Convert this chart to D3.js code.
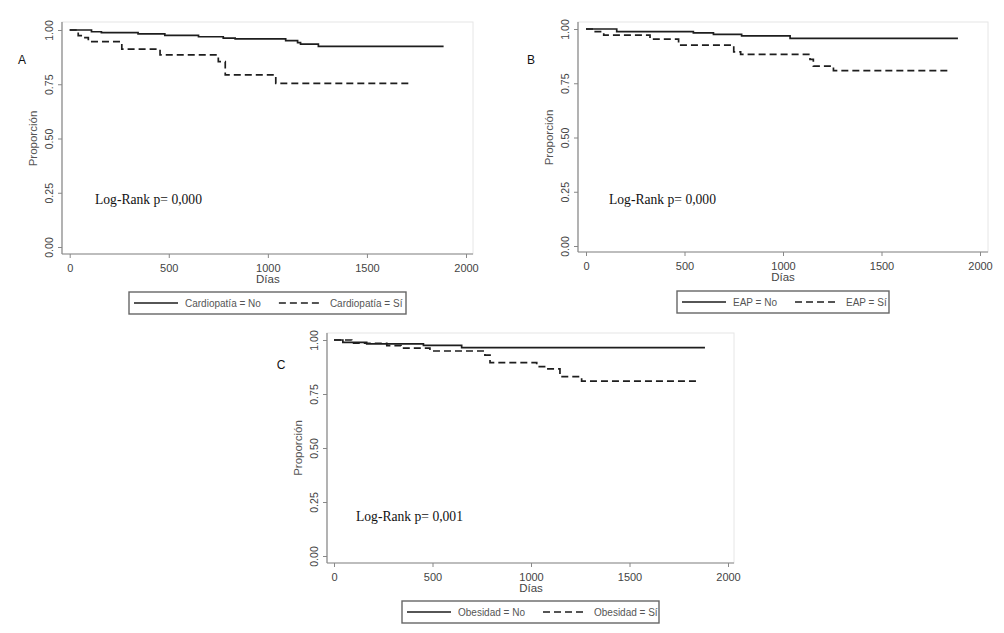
<!DOCTYPE html>
<html>
<head>
<meta charset="utf-8">
<script src="https://cdn.jsdelivr.net/npm/d3@7/dist/d3.min.js"></script>
<style>
  html, body { margin: 0; padding: 0; background: #fff; }
  svg { display: block; font-family: "Liberation Sans", Arial, sans-serif; }
</style>
</head>
<body>
<svg id="chart" width="1004" height="633"></svg>
<script>
// Kaplan-Meier curves, three panels (A, B, C)
// each series: [dias, proporcion] step points

var xTicks = [0, 500, 1000, 1500, 2000];
var yTicks = [0, 0.25, 0.5, 0.75, 1];

var cardioNo = [[0,1],[110,0.992],[160,0.988],[345,0.982],[480,0.975],[650,0.969],[775,0.963],[835,0.959],[1090,0.951],[1150,0.942],[1165,0.935],[1255,0.925],[1887,0.925]];
var cardioSi = [[0,1],[43,0.974],[77,0.965],[94,0.946],[263,0.912],[456,0.885],[750,0.854],[785,0.793],[1040,0.754],[1727,0.754]];

var eapNo = [[0,1],[156,0.988],[545,0.982],[647,0.975],[790,0.968],[1036,0.957],[1888,0.957]];
var eapSi = [[0,1],[40,0.988],[90,0.972],[325,0.953],[470,0.926],[750,0.895],[785,0.883],[1137,0.86],[1154,0.829],[1256,0.808],[1839,0.808]];

var obesNo = [[0,1],[45,0.989],[166,0.982],[454,0.975],[648,0.965],[1883,0.965]];
var obesSi = [[0,1],[90,0.985],[268,0.974],[340,0.962],[487,0.949],[766,0.93],[792,0.895],[1029,0.877],[1080,0.866],[1147,0.83],[1257,0.81],[1840,0.81]];

var panelLetters = ['A', 'B', 'C'];
var legendLabels = [
  ['Cardiopatía = No', 'Cardiopatía = Sí'],
  ['EAP = No', 'EAP = Sí'],
  ['Obesidad = No', 'Obesidad = Sí']
];
var pValues = ['Log-Rank p= 0,000', 'Log-Rank p= 0,000', 'Log-Rank p= 0,001'];

// layout of each panel (pixels)
var layouts = [
  { lx: 22,  ly: 64,  axX: 62,  axY: 254, top: 22,  right: 473, x0: 69.7, x1: 466, y1: 30,  y0: 247, leg: [129, 292, 277, 22], lr: [95, 204] },
  { lx: 531, ly: 64,  axX: 578, axY: 252, top: 22,  right: 988, x0: 586,  x1: 980, y1: 29,  y0: 246, leg: [677, 291, 212, 22], lr: [609, 204] },
  { lx: 281, ly: 369, axX: 327, axY: 563, top: 333, right: 734, x0: 334,  x1: 728, y1: 340, y0: 556, leg: [402, 601, 257, 22], lr: [356, 521] }
];

var series = [[cardioNo, cardioSi], [eapNo, eapSi], [obesNo, obesSi]];

var svg = d3.select('#chart');
var AXIS = '#888', TXT = '#444', INK = '#1e1e1e';

function drawPanel(i){
  var L = layouts[i];
  var g = svg.append('g');

  var x = d3.scaleLinear().domain([0, 2000]).range([L.x0, L.x1]);
  var y = d3.scaleLinear().domain([0, 1]).range([L.y0, L.y1]);

  // faint plot region outline
  g.append('rect')
    .attr('x', L.axX).attr('y', L.top)
    .attr('width', L.right - L.axX).attr('height', L.axY - L.top)
    .attr('fill', 'none').attr('stroke', '#e6e6e6');

  // y axis
  var ya = g.append('g').attr('transform', 'translate(' + L.axX + ',0)')
    .call(d3.axisLeft(y).tickValues(yTicks).tickFormat(d3.format('.2f')).tickSize(4));
  ya.select('.domain').remove();
  ya.selectAll('line').attr('stroke', AXIS);
  ya.selectAll('text')
    .attr('transform', 'rotate(-90)')
    .attr('x', 0).attr('y', -9.5).attr('dy', 0)
    .attr('text-anchor', 'middle')
    .attr('fill', TXT).style('font-size', '10.5px').style('font-family', null);
  g.append('line').attr('x1', L.axX).attr('x2', L.axX).attr('y1', L.top).attr('y2', L.axY).attr('stroke', AXIS).attr('stroke-width', 1.2);

  // x axis
  var xa = g.append('g').attr('transform', 'translate(0,' + L.axY + ')')
    .call(d3.axisBottom(x).tickValues(xTicks).tickFormat(d3.format('d')).tickSize(4));
  xa.select('.domain').remove();
  xa.selectAll('line').attr('stroke', AXIS);
  xa.selectAll('text')
    .attr('y', 18).attr('dy', 0)
    .attr('fill', TXT).style('font-size', '11px').style('font-family', null);
  g.append('line').attr('x1', L.axX).attr('x2', L.right).attr('y1', L.axY).attr('y2', L.axY).attr('stroke', AXIS).attr('stroke-width', 1.2);

  // axis titles
  g.append('text')
    .attr('transform', 'translate(' + (L.axX - 25) + ',' + y(0.5) + ') rotate(-90)')
    .attr('text-anchor', 'middle').attr('fill', '#555').style('font-size', '11.5px')
    .text('Proporción');
  g.append('text')
    .attr('x', x(1000)).attr('y', L.axY + 28.5)
    .attr('text-anchor', 'middle').attr('fill', TXT).style('font-size', '11.5px')
    .text('Días');

  // survival curves
  var line = d3.line()
    .x(function(d){ return x(d[0]); })
    .y(function(d){ return y(d[1]); })
    .curve(d3.curveStepAfter);

  series[i].forEach(function(s, k){
    g.append('path')
      .datum(s)
      .attr('d', line)
      .attr('fill', 'none')
      .attr('stroke', INK)
      .attr('stroke-width', 1.7)
      .attr('stroke-dasharray', k === 1 ? '7,4' : null);
  });

  // panel letter
  g.append('text')
    .attr('x', L.lx).attr('y', L.ly)
    .attr('text-anchor', 'middle').attr('fill', '#111').style('font-size', '12px')
    .text(panelLetters[i]);

  // log-rank note
  g.append('text')
    .attr('x', L.lr[0]).attr('y', L.lr[1])
    .attr('fill', '#111')
    .style('font-family', '"Liberation Serif", "Times New Roman", serif')
    .style('font-size', '13.6px')
    .text(pValues[i]);

  // legend
  var lg = L.leg;
  var leg = g.append('g');
  leg.append('rect')
    .attr('x', lg[0]).attr('y', lg[1]).attr('width', lg[2]).attr('height', lg[3])
    .attr('fill', '#fff').attr('stroke', '#666').attr('stroke-width', 1.4);
  var cy = lg[1] + lg[3] / 2;
  var cx = lg[0] + 5;
  legendLabels[i].forEach(function(lab, k){
    leg.append('line')
      .attr('x1', cx).attr('x2', cx + 44).attr('y1', cy).attr('y2', cy)
      .attr('stroke', INK).attr('stroke-width', 1.6)
      .attr('stroke-dasharray', k === 1 ? '7,4' : null);
    var t = leg.append('text')
      .attr('x', cx + 51).attr('y', cy + 3.5)
      .attr('fill', '#555').style('font-size', '10px')
      .text(lab);
    cx = cx + 51 + t.node().getComputedTextLength() + 18;
  });
}

for (var i = 0; i < layouts.length; i++) drawPanel(i);
</script>
</body>
</html>
